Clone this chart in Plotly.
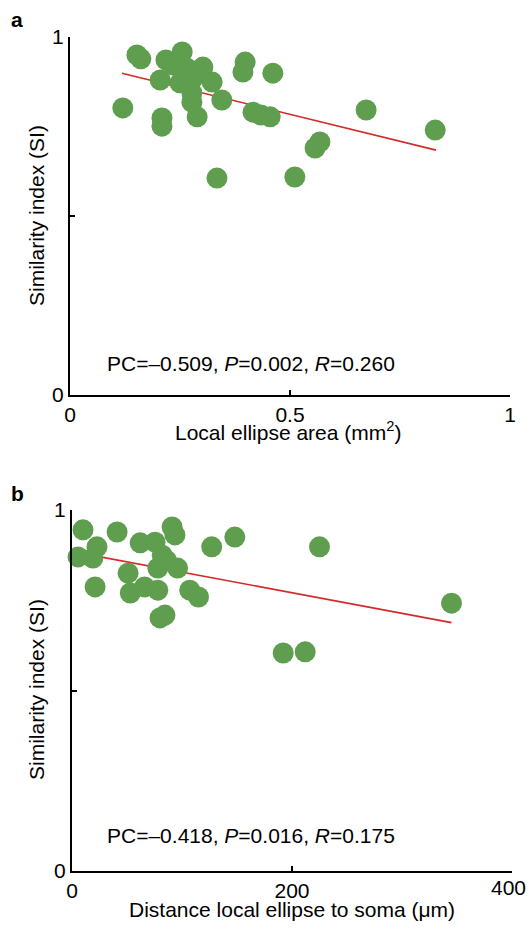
import plotly.graph_objects as go

# ---- Panel a data: local ellipse area (mm^2) vs similarity index ----
area_x = [0.152, 0.161, 0.120, 0.209, 0.209, 0.205, 0.218, 0.255, 0.234, 0.266,
          0.302, 0.280, 0.323, 0.277, 0.277, 0.289, 0.345, 0.250, 0.334, 0.398,
          0.393, 0.461, 0.416, 0.434, 0.455, 0.511, 0.568, 0.557, 0.673, 0.830]
area_si = [0.950, 0.939, 0.802, 0.774, 0.751, 0.880, 0.936, 0.958, 0.922, 0.913,
           0.916, 0.885, 0.874, 0.844, 0.818, 0.777, 0.824, 0.872, 0.606, 0.930,
           0.902, 0.899, 0.790, 0.782, 0.777, 0.609, 0.707, 0.690, 0.796, 0.740]
area_fit_x = [0.118, 0.832]
area_fit_si = [0.899, 0.684]
area_stats = "PC=\u20130.509, <i>P</i>=0.002, <i>R</i>=0.260"

# ---- Panel b data: distance local ellipse to soma (um) vs similarity index ----
dist_x = [10, 22.7, 5.5, 19, 41, 62, 75.5, 91, 93.6, 82,
          78, 96, 51, 53, 66, 78, 107, 115, 21, 80,
          84.5, 127, 148, 225, 345, 192, 212, 86]
dist_si = [0.945, 0.898, 0.870, 0.867, 0.939, 0.909, 0.911, 0.953, 0.931, 0.875,
           0.839, 0.839, 0.825, 0.770, 0.787, 0.778, 0.778, 0.759, 0.787, 0.701,
           0.709, 0.898, 0.925, 0.898, 0.742, 0.604, 0.607, 0.860]
dist_fit_x = [5, 345]
dist_fit_si = [0.882, 0.688]
dist_stats = "PC=\u20130.418, <i>P</i>=0.016, <i>R</i>=0.175"

y_ticks = [0, 1]
y_minor = [0.5]
x_ticks_a = [0, 0.5, 1]
x_ticktext_a = ["0", "0.5", "1"]
x_ticks_b = [0, 200]
x_ticktext_b = ["0", "200"]
x_end_b = 400
x_end_b_text = "400"

GREEN = "#5e9e4e"
RED = "#d42a2a"
FONT = "Liberation Sans, Arial, Helvetica, sans-serif"
FS = 21

# page body margin is removed in the page script, so figure fills the window
W, H = 528, 928
ML, MR, MT, MB = 70, W - 512, 37, H - 871
PW = W - ML - MR
PH = H - MT - MB

def py(pix):  # page pixel -> paper y
    return (H - MB - pix) / PH

def px(pix):  # page pixel -> paper x
    return (pix - ML) / PW

fig = go.Figure()
fig.add_trace(go.Scatter(x=area_fit_x, y=area_fit_si, mode="lines",
                         line=dict(color=RED, width=1.6), xaxis="x", yaxis="y",
                         showlegend=False, hoverinfo="skip"))
fig.add_trace(go.Scatter(x=area_x, y=area_si, mode="markers",
                         marker=dict(color=GREEN, size=21, line=dict(width=0)),
                         xaxis="x", yaxis="y", showlegend=False, cliponaxis=False))
fig.add_trace(go.Scatter(x=dist_fit_x, y=dist_fit_si, mode="lines",
                         line=dict(color=RED, width=1.6), xaxis="x2", yaxis="y2",
                         showlegend=False, hoverinfo="skip"))
fig.add_trace(go.Scatter(x=dist_x, y=dist_si, mode="markers",
                         marker=dict(color=GREEN, size=21, line=dict(width=0)),
                         xaxis="x2", yaxis="y2", showlegend=False, cliponaxis=False))

axis_common = dict(showgrid=False, zeroline=False, showline=True, linecolor="black",
                   linewidth=2, ticks="inside", ticklen=5, tickwidth=2, tickcolor="black",
                   tickfont=dict(family=FONT, size=FS, color="black"), fixedrange=True,
                   automargin=False)

def minor(vals):
    return dict(tickvals=vals, ticks="inside", ticklen=5, tickwidth=2, tickcolor="black",
                showgrid=False)

fig.update_layout(
    width=W, height=H,
    margin=dict(l=ML, r=MR, t=MT, b=MB),
    paper_bgcolor="white", plot_bgcolor="white",
    font=dict(family=FONT, size=FS, color="black"),
    xaxis=dict(axis_common, domain=[0, px(510)], range=[0, 1],
               tickvals=x_ticks_a, ticktext=x_ticktext_a, anchor="y"),
    yaxis=dict(axis_common, domain=[py(395), py(37)], range=[0, 1],
               tickvals=y_ticks, anchor="x", minor=minor(y_minor)),
    xaxis2=dict(axis_common, domain=[px(72), 1], range=[0, 400],
                tickvals=x_ticks_b, ticktext=x_ticktext_b, anchor="y2",
                minor=minor([x_end_b])),
    yaxis2=dict(axis_common, domain=[0, py(510)], range=[0, 1],
                tickvals=y_ticks, anchor="x2", minor=minor(y_minor)),
)

ann = [
    (area_stats, px(105), py(363), "left", 0, FS),
    (dist_stats, px(105), py(835), "left", 0, FS),
    ("Local ellipse area (mm<sup>2</sup>)", px(288), py(431), "center", 0, FS),
    ("Distance local ellipse to soma (\u03bcm)", px(292), py(910), "center", 0, FS),
    ("Similarity index (SI)", px(36), py(216), "center", -90, FS),
    ("Similarity index (SI)", px(36), py(690), "center", -90, FS),
    ("<b>a</b>", px(17), py(20), "center", 0, 21),
    ("<b>b</b>", px(17), py(494), "center", 0, 21),
    (x_end_b_text, px(528), py(887), "right", 0, FS),
]
for text, x, y, xa, ang, size in ann:
    fig.add_annotation(text=text, x=x, y=y, xref="paper", yref="paper",
                       xanchor=xa, yanchor="middle", textangle=ang, showarrow=False,
                       font=dict(family=FONT, size=size, color="black"))

fig.write_html(
    "out.html",
    config={"displayModeBar": False},
    post_script=("document.body.style.margin='0';"
                 "document.documentElement.style.overflow='hidden';"),
)
